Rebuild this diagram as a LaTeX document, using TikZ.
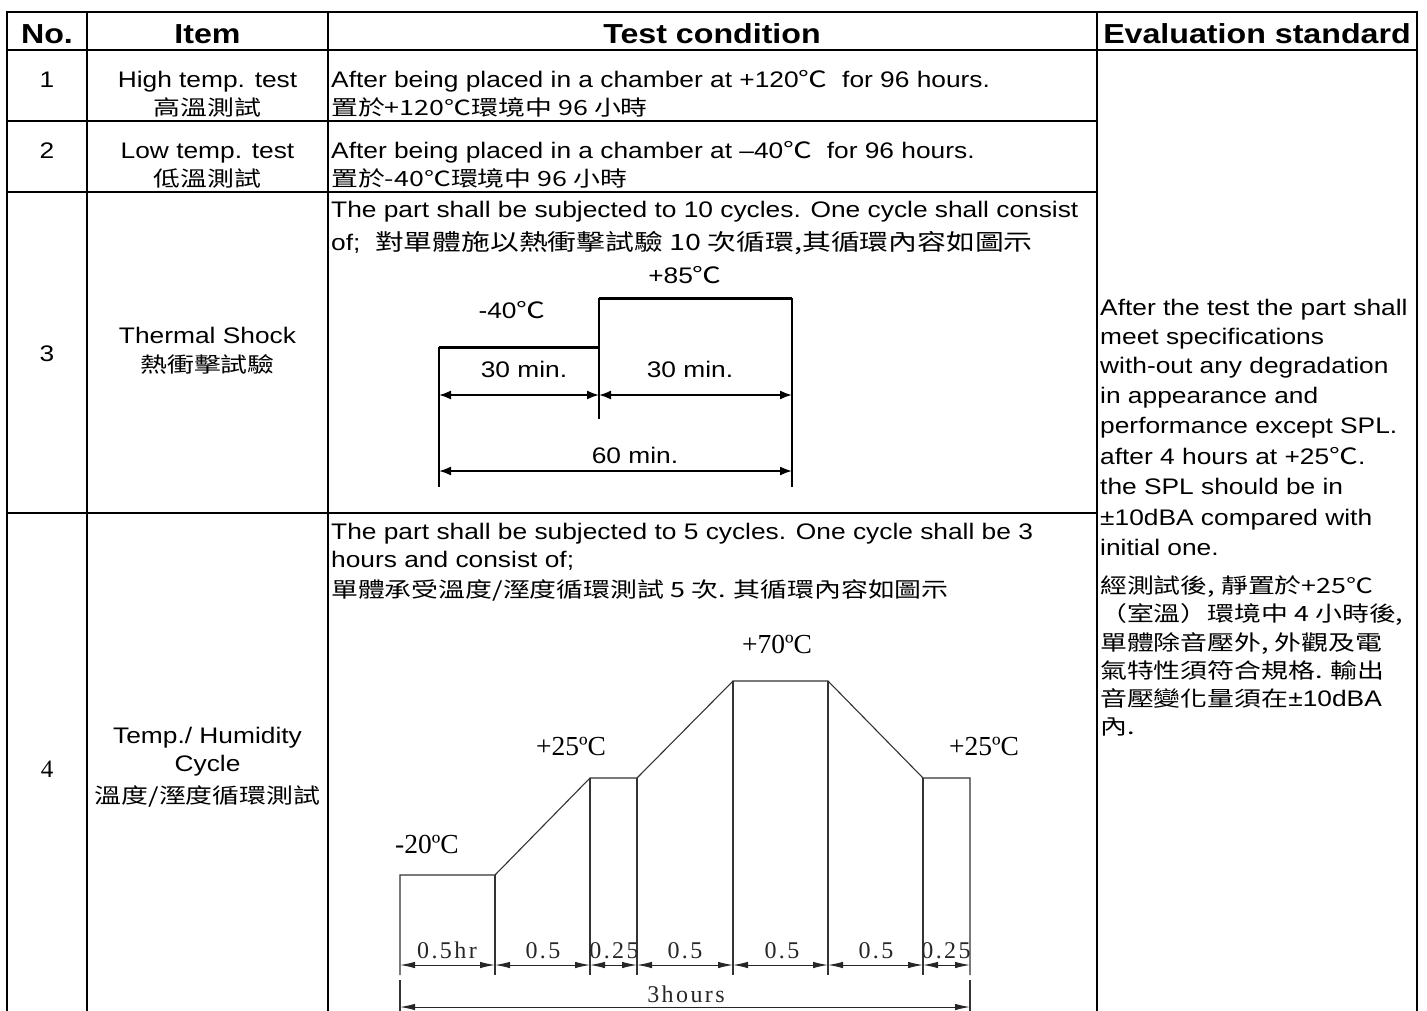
\documentclass[tikz,border=0pt]{standalone}
\usepackage{fontspec}
\setmainfont{Liberation Sans}[FakeStretch=1.17]
\newfontfamily\cjk{Noto Sans CJK TC}[FakeStretch=1.28]
\newfontfamily\timesfont{Liberation Serif}
\newfontfamily\cadfont{Liberation Serif}[LetterSpace=10]
\usetikzlibrary{arrows.meta}
\tikzset{>=latex}
\tikzset{gridrule/.style = {line width=2.3pt, line cap=rect}}
\tikzset{txt/.style = {inner sep=0pt, anchor=base west, font=\fontsize{22.5}{27}\selectfont}}
\tikzset{ctxt/.style = {txt, anchor=base}}
\tikzset{hanzi/.style = {txt, font=\cjk\fontsize{21}{25}\selectfont}}
\tikzset{chanzi/.style = {hanzi, anchor=base}}
\tikzset{headtxt/.style = {inner sep=0pt, anchor=base, font=\fontsize{27.5}{32}\selectfont\bfseries}}
\tikzset{plateau/.style = {line width=3pt}}
\tikzset{riser/.style = {line width=1.8pt}}
\tikzset{shockspan/.style = {<->, >={Latex[length=12pt,width=9pt]}, line width=1.8pt}}
\tikzset{profile/.style = {line width=1.1pt, black!80}}
\tikzset{cadspan/.style = {<->, >={Latex[length=15pt,width=6.5pt]}, line width=1pt, black!85}}
\tikzset{degree/.style = {inner sep=0pt, anchor=base, font=\timesfont\fontsize{27.5}{32}\selectfont}}
\tikzset{dimtxt/.style = {inner sep=0pt, anchor=base, font=\cadfont\fontsize{24}{28}\selectfont, black!85}}

\begin{document}
\begin{tikzpicture}[x=1pt,y=-1pt]
            \useasboundingbox (0,0) rectangle (1427,1010);

            % Grid
            \draw[gridrule] (7,12) -- (1417,12);
            \draw[gridrule] (7,50) -- (1417,50);
            \draw[gridrule] (7,121) -- (1097,121);
            \draw[gridrule] (7,192) -- (1097,192);
            \draw[gridrule] (7,513) -- (1097,513);
            \draw[gridrule] (7,12) -- (7,1012);
            \draw[gridrule] (87,12) -- (87,1012);
            \draw[gridrule] (328,12) -- (328,1012);
            \draw[gridrule] (1097,12) -- (1097,1012);
            \draw[gridrule] (1417,12) -- (1417,1012);

            % Header
            \node[headtxt] (hno) at (47,43) {No.};
            \node[headtxt] (hitem) at (207.5,43) {Item};
            \node[headtxt] (htest) at (712,43) {Test condition};
            \node[headtxt] (heval) at (1257,43) {Evaluation standard};

            % Row 1
            \node[ctxt] (no1) at (47,87) {1};
            \node[ctxt] (item1) at (207.5,87) {High temp. test};
            \node[chanzi] (item1c) at (207.5,115) {高溫測試};
            \node[txt] (cond1) at (331,87) {After being placed in a chamber at +120{\cjk ℃}\ \ for 96 hours.};
            \node[hanzi] (cond1c) at (331,115) {置於+120℃環境中 96 小時};

            % Row 2
            \node[ctxt] (no2) at (47,158) {2};
            \node[ctxt] (item2) at (207.5,158) {Low temp. test};
            \node[chanzi] (item2c) at (207.5,186) {低溫測試};
            \node[txt] (cond2) at (331,158) {After being placed in a chamber at –40{\cjk ℃}\ \ for 96 hours.};
            \node[hanzi] (cond2c) at (331,186) {置於-40℃環境中 96 小時};

            % Row 3
            \node[ctxt] (no3) at (47,361) {3};
            \node[ctxt] (item3) at (207.5,343) {Thermal Shock};
            \node[chanzi] (item3c) at (207.5,372) {熱衝擊試驗};
            \node[txt] (cond3) at (331,217) {The part shall be subjected to 10 cycles. One cycle shall consist};
            \node[txt] (cond3b) at (331,250) {of;\ \ {\cjk 對單體施以熱衝擊試驗 10 次循環,其循環內容如圖示}};

            % Thermal shock
            \coordinate (sa) at (439,347);
            \coordinate (sb) at (599,347);
            \coordinate (sc) at (599,298);
            \coordinate (sd) at (792,298);
            \coordinate (sl1) at (439,395);
            \coordinate (sm1) at (599,395);
            \coordinate (sr1) at (792,395);
            \coordinate (sl2) at (439,471);
            \coordinate (sr2) at (792,471);
            \draw[plateau] (sa) -- (sb);
            \draw[plateau] (sc) -- (sd);
            \draw[riser] (sa) -- ++(0,140);
            \draw[riser] (sc) -- ++(0,121);
            \draw[riser] (sd) -- ++(0,189);
            \draw[shockspan] (sl1) -- (sm1);
            \draw[shockspan] (sm1) -- (sr1);
            \draw[shockspan] (sl2) -- (sr2);
            \node[ctxt] (hot) at (685,283) {+85{\cjk ℃}};
            \node[ctxt] (cold) at (512,318) {-40{\cjk ℃}};
            \node[ctxt] (coldtime) at (524,377) {30 min.};
            \node[ctxt] (hottime) at (690,377) {30 min.};
            \node[ctxt] (cycletime) at (635,463) {60 min.};

            % Row 4
            \node[inner sep=0pt, anchor=base, font=\timesfont\fontsize{25}{30}\selectfont] (no4) at (47,777) {4};
            \node[ctxt] (item4) at (207.5,743) {Temp./ Humidity};
            \node[ctxt] (item4b) at (207.5,771) {Cycle};
            \node[chanzi] (item4c) at (207.5,803) {溫度/溼度循環測試};
            \node[txt] (cond4) at (331,539) {The part shall be subjected to 5 cycles. One cycle shall be 3};
            \node[txt] (cond4b) at (331,567) {hours and consist of;};
            \node[hanzi] (cond4c) at (331,597) {單體承受溫度/溼度循環測試 5 次. 其循環內容如圖示};

            % Humidity cycle
            \coordinate (p0) at (400,875);
            \coordinate (p1) at (495,875);
            \coordinate (p2) at (590,778);
            \coordinate (p3) at (637,778);
            \coordinate (p4) at (733,681);
            \coordinate (p5) at (828,681);
            \coordinate (p6) at (923,778);
            \coordinate (p7) at (970,778);
            \coordinate (b0) at (400,975);
            \coordinate (b1) at (495,975);
            \coordinate (b2) at (590,975);
            \coordinate (b3) at (637,975);
            \coordinate (b4) at (733,975);
            \coordinate (b5) at (828,975);
            \coordinate (b6) at (923,975);
            \coordinate (b7) at (970,975);
            \draw[profile] (b0) -- (p0) -- (p1) -- (p2) -- (p3) -- (p4) -- (p5) -- (p6) -- (p7) -- (b7);
            \draw[profile] (p1) -- (b1);
            \draw[profile] (p2) -- (b2);
            \draw[profile] (p3) -- (b3);
            \draw[profile] (p4) -- (b4);
            \draw[profile] (p5) -- (b5);
            \draw[profile] (p6) -- (b6);

            % dimensions
            \coordinate (d0) at (400,965);
            \coordinate (d1) at (495,965);
            \coordinate (d2) at (590,965);
            \coordinate (d3) at (637,965);
            \coordinate (d4) at (733,965);
            \coordinate (d5) at (828,965);
            \coordinate (d6) at (923,965);
            \coordinate (d7) at (970,965);
            \draw[cadspan] (d0) -- (d1);
            \draw[cadspan] (d1) -- (d2);
            \draw[cadspan] (d2) -- (d3);
            \draw[cadspan] (d3) -- (d4);
            \draw[cadspan] (d4) -- (d5);
            \draw[cadspan] (d5) -- (d6);
            \draw[cadspan] (d6) -- (d7);
            \coordinate (e0) at (400,980);
            \coordinate (e7) at (970,980);
            \coordinate (f0) at (400,1012);
            \coordinate (f7) at (970,1012);
            \coordinate (g0) at (400,1007);
            \coordinate (g7) at (970,1007);
            \draw[profile] (e0) -- (f0);
            \draw[profile] (e7) -- (f7);
            \draw[cadspan] (g0) -- (g7);

            \node[degree] (t0) at (427,853) {-20ºC};
            \node[degree] (t1) at (571,755) {+25ºC};
            \node[degree] (t2) at (777,653) {+70ºC};
            \node[degree] (t3) at (984,755) {+25ºC};
            \node[dimtxt] (w0) at (447,958) {0.5hr};
            \node[dimtxt] (w1) at (543,958) {0.5};
            \node[dimtxt] (w2) at (614,958) {0.25};
            \node[dimtxt] (w3) at (685,958) {0.5};
            \node[dimtxt] (w4) at (782,958) {0.5};
            \node[dimtxt] (w5) at (876,958) {0.5};
            \node[dimtxt] (w6) at (946,958) {0.25};
            \node[dimtxt] (total) at (686,1002) {3hours};

            % Evaluation
            \node[txt] (ev1) at (1100,315) {After the test the part shall};
            \node[txt] (ev2) at (1100,344) {meet specifications};
            \node[txt] (ev3) at (1100,373) {with-out any degradation};
            \node[txt] (ev4) at (1100,403) {in appearance and};
            \node[txt] (ev5) at (1100,433) {performance except SPL.};
            \node[txt] (ev6) at (1100,464) {after 4 hours at +25{\cjk ℃}.};
            \node[txt] (ev7) at (1100,494) {the SPL should be in};
            \node[txt] (ev8) at (1100,525) {±10dBA compared with};
            \node[txt] (ev9) at (1100,555) {initial one.};
            \node[hanzi] (evc1) at (1100,593) {經測試後, 靜置於+25℃};
            \node[hanzi] (evc2) at (1100,621) {（室溫）環境中 4 小時後,};
            \node[hanzi] (evc3) at (1100,650) {單體除音壓外, 外觀及電};
            \node[hanzi] (evc4) at (1100,678) {氣特性須符合規格. 輸出};
            \node[hanzi] (evc5) at (1100,706) {音壓變化量須在{\fontspec{Liberation Sans}[FakeStretch=1.17]\fontsize{22.5}{27}\selectfont ±10dBA}};
            \node[hanzi] (evc6) at (1100,734) {內.};
\end{tikzpicture}
\end{document}
